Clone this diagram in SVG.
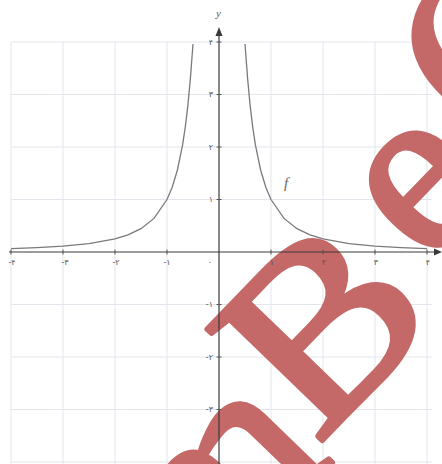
<svg xmlns="http://www.w3.org/2000/svg" width="442" height="464" viewBox="0 0 442 464">
<style>
.grid{stroke:#e2e5ec;stroke-width:1;fill:none}
.axis{stroke:#3a3a3a;stroke-width:1.2;fill:none}
.tick{stroke:#555;stroke-width:1}
.curve{stroke:#7a7a7a;stroke-width:1.3;fill:none}
.lbl{font-family:"DejaVu Sans",sans-serif;font-size:8px;fill:#555}
.wm{font-family:"Liberation Serif",serif;font-size:245px;fill:#c46868;stroke:#c46868;stroke-width:5;stroke-linejoin:round}
</style>
<rect width="442" height="464" fill="#ffffff"/>
<g id="grid" class="grid">
<path d="M11 42V464M63 42V464M115 42V464M167 42V464M271 42V464M323 42V464M375 42V464M427 42V464"/>
<path d="M11 42H432M11 94.5H432M11 147H432M11 199.5H432M11 304.5H432M11 357H432M11 409.5H432M11 462H432"/>
</g>
<g id="watermark">
<text class="wm" transform="translate(203,597) rotate(-46)">m</text>
<text class="wm" transform="translate(317,446) rotate(-46) scale(1.1,1)" font-size="260">B</text>
<text class="wm" transform="translate(429,269) rotate(-46)">e</text>
<text class="wm" transform="translate(494,157) rotate(-46)">G</text>
</g>
<g id="axes">
<line class="axis" x1="9" y1="252" x2="437" y2="252"/>
<polygon points="442,252 434,248.5 434,255.5" fill="#3a3a3a"/>
<line class="axis" x1="219" y1="34" x2="219" y2="464"/>
<polygon points="219,27 215.5,36 222.5,36" fill="#3a3a3a"/>
<path class="tick" d="M11 249.5V254.5M63 249.5V254.5M115 249.5V254.5M167 249.5V254.5M271 249.5V254.5M323 249.5V254.5M375 249.5V254.5M427 249.5V254.5"/>
<path class="tick" d="M216.5 42H221.5M216.5 94.5H221.5M216.5 147H221.5M216.5 199.5H221.5M216.5 304.5H221.5M216.5 357H221.5M216.5 409.5H221.5"/>
</g>
<g id="curve">
<path class="curve" d="M11 248.7L37 247.7L63 246.2L89 243.6L115 238.9L128 234.9L141 228.7L154 218.4L167 199.5L172.2 187.2L177.4 170L182.6 144.9L185.2 127.7L187.8 106.2L190.4 78.4L193 44"/>
<path class="curve" d="M427 248.7L401 247.7L375 246.2L349 243.6L323 238.9L310 234.9L297 228.7L284 218.4L271 199.5L265.8 187.2L260.6 170L255.4 144.9L252.8 127.7L250.2 106.2L247.6 78.4L245 44"/>
<text x="284" y="188" font-family="Liberation Serif,serif" font-style="italic" font-size="15" fill="#666">f</text>
</g>
<g id="labels" class="lbl">
<text x="216" y="17" font-family="Liberation Serif,serif" font-style="italic" font-size="11" fill="#555">y</text>
<text x="12" y="265" text-anchor="middle">-۴</text>
<text x="65" y="265" text-anchor="middle">-۳</text>
<text x="116" y="265" text-anchor="middle">-۲</text>
<text x="167" y="265" text-anchor="middle">-۱</text>
<text x="210" y="265" text-anchor="middle">۰</text>
<text x="272" y="265" text-anchor="middle">۱</text>
<text x="324" y="265" text-anchor="middle">۲</text>
<text x="376" y="265" text-anchor="middle">۳</text>
<text x="428" y="265" text-anchor="middle">۴</text>
<text x="213" y="45" text-anchor="end">۴</text>
<text x="213" y="97" text-anchor="end">۳</text>
<text x="213" y="150" text-anchor="end">۲</text>
<text x="213" y="202" text-anchor="end">۱</text>
<text x="213" y="307" text-anchor="end">-۱</text>
<text x="213" y="360" text-anchor="end">-۲</text>
<text x="213" y="412" text-anchor="end">-۳</text>
</g>
</svg>
